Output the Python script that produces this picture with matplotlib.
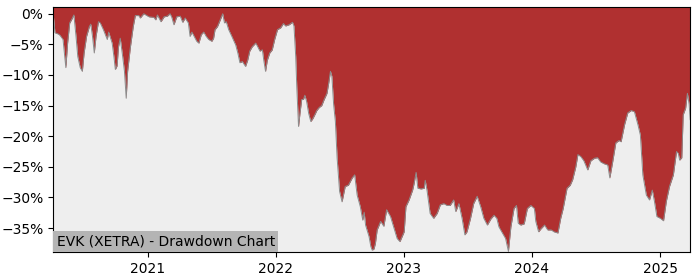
import pandas as pd
import matplotlib
matplotlib.use("Agg")
import matplotlib.pyplot as plt
import matplotlib.dates as mdates
from matplotlib.ticker import FuncFormatter

# --- drawdown series (percent below running peak) ---
dates = [
    "2020-04-07", "2020-04-12", "2020-04-21", "2020-04-26", "2020-05-05", "2020-05-13",
    "2020-05-18", "2020-05-24", "2020-05-29", "2020-06-05", "2020-06-11", "2020-06-16",
    "2020-06-23", "2020-06-29", "2020-07-04", "2020-07-11", "2020-07-19", "2020-07-23",
    "2020-07-28", "2020-08-02", "2020-08-07", "2020-08-14", "2020-08-19", "2020-08-28",
    "2020-09-08", "2020-09-12", "2020-09-22", "2020-09-27", "2020-10-01", "2020-10-06",
    "2020-10-10", "2020-10-15", "2020-10-22", "2020-10-27", "2020-11-01", "2020-11-05",
    "2020-11-13", "2020-11-21", "2020-11-27", "2020-12-07", "2020-12-11", "2020-12-21",
    "2021-01-05", "2021-01-19", "2021-01-24", "2021-01-29", "2021-02-08", "2021-02-17",
    "2021-02-26", "2021-03-06", "2021-03-11", "2021-03-17", "2021-03-25", "2021-04-04",
    "2021-04-11", "2021-04-18", "2021-04-27", "2021-05-02", "2021-05-07", "2021-05-11",
    "2021-05-21", "2021-05-27", "2021-06-03", "2021-06-10", "2021-06-17", "2021-06-24",
    "2021-07-03", "2021-07-08", "2021-07-12", "2021-07-19", "2021-07-27", "2021-08-03",
    "2021-08-08", "2021-08-13", "2021-08-20", "2021-08-29", "2021-09-09", "2021-09-15",
    "2021-09-21", "2021-09-28", "2021-10-07", "2021-10-13", "2021-10-19", "2021-10-26",
    "2021-11-05", "2021-11-10", "2021-11-17", "2021-11-24", "2021-11-28", "2021-12-03",
    "2021-12-08", "2021-12-15", "2021-12-22", "2021-12-29", "2022-01-06", "2022-01-15",
    "2022-01-23", "2022-01-29", "2022-02-08", "2022-02-18", "2022-02-22", "2022-02-27",
    "2022-03-02", "2022-03-07", "2022-03-11", "2022-03-16", "2022-03-21", "2022-03-25",
    "2022-03-30", "2022-04-05", "2022-04-11", "2022-04-17", "2022-04-24", "2022-04-28",
    "2022-05-05", "2022-05-12", "2022-05-19", "2022-05-27", "2022-06-01", "2022-06-06",
    "2022-06-10", "2022-06-15", "2022-06-20", "2022-06-25", "2022-07-02", "2022-07-09",
    "2022-07-18", "2022-07-27", "2022-08-07", "2022-08-14", "2022-08-21", "2022-08-30",
    "2022-09-06", "2022-09-10", "2022-09-14", "2022-09-24", "2022-09-29", "2022-10-03",
    "2022-10-08", "2022-10-12", "2022-10-17", "2022-10-27", "2022-11-05", "2022-11-13",
    "2022-11-24", "2022-12-04", "2022-12-13", "2022-12-21", "2023-01-02", "2023-01-07",
    "2023-01-16", "2023-01-26", "2023-01-30", "2023-02-05", "2023-02-10", "2023-02-19",
    "2023-02-28", "2023-03-03", "2023-03-08", "2023-03-17", "2023-03-27", "2023-04-06",
    "2023-04-15", "2023-04-25", "2023-05-04", "2023-05-13", "2023-05-23", "2023-05-29",
    "2023-06-07", "2023-06-16", "2023-06-24", "2023-06-30", "2023-07-10", "2023-07-19",
    "2023-07-29", "2023-08-08", "2023-08-17", "2023-08-27", "2023-09-06", "2023-09-15",
    "2023-09-23", "2023-09-29", "2023-10-09", "2023-10-18", "2023-10-26", "2023-11-02",
    "2023-11-11", "2023-11-18", "2023-11-23", "2023-11-30", "2023-12-10", "2023-12-19",
    "2023-12-29", "2024-01-08", "2024-01-12", "2024-01-20", "2024-01-27", "2024-02-06",
    "2024-02-15", "2024-02-25", "2024-03-04", "2024-03-15", "2024-03-23", "2024-03-30",
    "2024-04-10", "2024-04-19", "2024-04-26", "2024-05-05", "2024-05-11", "2024-05-19",
    "2024-05-28", "2024-06-08", "2024-06-17", "2024-06-27", "2024-07-06", "2024-07-15",
    "2024-07-25", "2024-08-04", "2024-08-10", "2024-08-18", "2024-08-27", "2024-09-05",
    "2024-09-11", "2024-09-21", "2024-09-30", "2024-10-10", "2024-10-19", "2024-10-29",
    "2024-11-05", "2024-11-12", "2024-11-22", "2024-12-01", "2024-12-09", "2024-12-15",
    "2024-12-22", "2025-01-01", "2025-01-10", "2025-01-18", "2025-01-27", "2025-02-07",
    "2025-02-16", "2025-02-21", "2025-02-25", "2025-03-03", "2025-03-07", "2025-03-14",
    "2025-03-19", "2025-03-24", "2025-03-27",
]

drawdown_pct = [
    0.0, -3.1, -3.3, -3.5, -4.2, -8.8,
    -4.8, -1.5, -1.0, -0.2, -3.7, -7.0,
    -8.8, -9.4, -6.4, -3.7, -2.1, -1.7,
    -3.7, -6.4, -3.7, -1.3, -1.5, -2.6,
    -4.2, -3.0, -4.8, -7.0, -9.1, -8.5,
    -5.4, -4.0, -7.0, -9.4, -13.8, -9.4,
    -5.4, -2.1, -0.3, -0.3, -0.7, 0.0,
    -0.5, -0.6, -1.0, -0.2, -1.3, -0.5,
    -0.4, 0.0, -0.6, -1.8, -0.5, -0.4,
    -1.4, -0.7, -1.5, -3.7, -3.0, -3.4,
    -4.5, -4.8, -3.4, -3.0, -3.7, -4.2,
    -4.5, -4.0, -2.6, -2.1, -1.0, 0.0,
    -1.5, -1.3, -2.6, -3.7, -5.1, -6.4,
    -8.0, -7.8, -8.6, -7.6, -6.1, -5.4,
    -4.8, -5.3, -6.1, -5.9, -7.6, -9.4,
    -7.6, -6.4, -5.9, -4.2, -2.6, -2.3,
    -1.6, -2.0, -1.8, -1.4, -2.0, -7.0,
    -11.9, -18.4, -16.3, -14.0, -14.0, -13.3,
    -14.3, -16.3, -17.6, -17.1, -16.3, -15.8,
    -15.3, -15.0, -14.0, -13.0, -11.3, -9.4,
    -10.2, -14.8, -17.6, -23.6, -29.0, -30.7,
    -28.2, -28.0, -26.8, -26.3, -29.6, -31.5,
    -33.7, -32.4, -34.5, -36.4, -38.0, -38.6,
    -38.4, -37.5, -35.3, -33.9, -34.7, -32.0,
    -33.1, -35.0, -36.7, -37.2, -35.6, -31.5,
    -30.4, -28.8, -27.8, -25.9, -28.5, -28.6,
    -28.5, -27.2, -28.8, -32.6, -33.4, -32.6,
    -31.2, -31.0, -31.3, -31.3, -30.4, -32.3,
    -31.0, -33.4, -36.1, -35.6, -33.4, -31.0,
    -29.8, -31.5, -33.4, -34.5, -33.5, -32.9,
    -33.4, -34.8, -35.8, -36.7, -38.8, -34.8,
    -31.8, -31.3, -34.2, -34.5, -34.3, -31.8,
    -31.3, -31.8, -33.9, -35.6, -35.1, -34.5,
    -35.3, -35.3, -35.6, -35.8, -33.4, -31.8,
    -28.5, -28.0, -27.1, -25.0, -23.0, -23.3,
    -24.0, -25.5, -24.0, -23.6, -23.5, -24.2,
    -24.5, -24.7, -26.8, -24.2, -21.1, -20.7,
    -20.9, -18.1, -16.2, -15.8, -16.0, -18.1,
    -19.8, -26.3, -29.6, -30.4, -28.8, -30.6,
    -33.1, -33.4, -33.8, -30.6, -28.2, -26.3,
    -22.5, -22.8, -23.9, -23.5, -16.5, -15.4,
    -13.0, -14.8, -17.3,
]

y_ticks = [0, -5, -10, -15, -20, -25, -30, -35]
title = "EVK (XETRA) - Drawdown Chart"

dd = pd.Series(drawdown_pct, index=pd.to_datetime(dates))
y_top, y_bottom = 1.1, -38.9

fig = plt.figure(figsize=(7, 2.8), dpi=100)
ax = fig.add_axes([0.076, 0.1, 0.91, 0.875])
ax.set_facecolor("#eeeeee")

# red area between the curve and the top, grey shows the remaining value
ax.fill_between(dd.index, dd.values, y_top, color="#b03030", linewidth=0)
ax.plot(dd.index, dd.values, color="#8c8c8c", linewidth=0.7)

ax.set_xlim(dd.index[0], dd.index[-1])
ax.set_ylim(y_bottom, y_top)
ax.set_yticks(y_ticks)
ax.yaxis.set_major_formatter(FuncFormatter(lambda v, _: f"{v:.0f}%".replace("-", "\u2212")))
ax.xaxis.set_major_locator(mdates.YearLocator())
ax.xaxis.set_major_formatter(mdates.DateFormatter("%Y"))
ax.tick_params(labelsize=10)

# label box sits flush in the lower left corner
pad = 2.5
ax.annotate(title, xy=(0, 0), xycoords="axes fraction", xytext=(pad, pad),
            textcoords="offset points", fontsize=10, ha="left", va="bottom",
            bbox=dict(facecolor="#b4b4b4", edgecolor="none", pad=pad))

fig.savefig("out.png", dpi=100)
